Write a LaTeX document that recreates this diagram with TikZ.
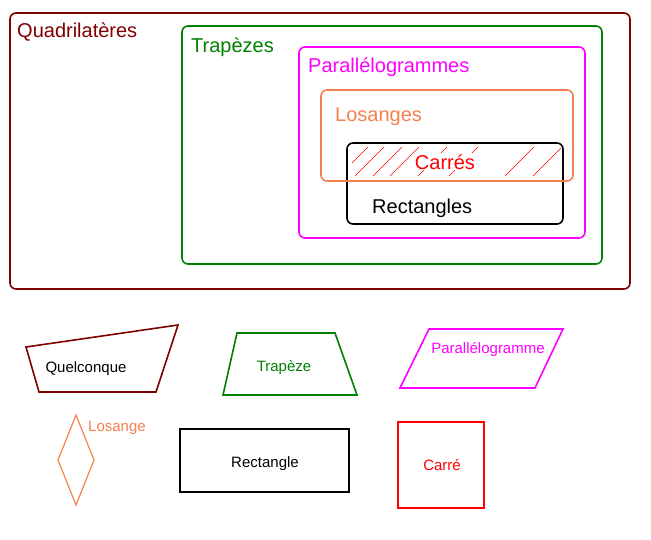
\documentclass[tikz,border=0pt]{standalone}
\usepackage{fontspec}
\setmainfont{Liberation Sans}
\definecolor{QuadRed}{HTML}{800000}
\definecolor{TrapGreen}{HTML}{008000}
\definecolor{ParaPink}{HTML}{FF00FF}
\definecolor{LosOrange}{HTML}{F47F4F}
\definecolor{CarreRed}{HTML}{FF0000}
\tikzset{
  setbox/.style={line width=1.6pt, rounded corners=6pt},
  setlabel/.style={anchor=base west, inner sep=0pt, font=\fontsize{20}{24}\selectfont},
  shapeline/.style={line width=1.6pt, line join=miter},
  shapelabel/.style={anchor=base, inner sep=0pt, font=\fontsize{15}{18}\selectfont}
}

\begin{document}
\begin{tikzpicture}[x=1pt, y=-1pt]
\useasboundingbox (0,0) rectangle (651,539);
% nested sets
\draw[setbox, QuadRed] (10,13) rectangle (630,289);
\draw[setbox, TrapGreen] (182,26) rectangle (602,264);
\draw[setbox, ParaPink] (299,47) rectangle (585,238);
\draw[setbox, black] (347,143) rectangle (563,224);
\draw[setbox, LosOrange] (321,90) rectangle (573,181);
% hatching of the common part
\begin{scope}
\clip (352,147) rectangle (561,176);
\foreach \hx in {339,355,373,390,418,449,505,533}
  \draw[CarreRed, line width=0.6pt] (\hx,176) -- ++(29,-29);
\end{scope}
% set names
\node[setlabel, QuadRed] (quad) at (17,37) {Quadrilatères};
\node[setlabel, TrapGreen] (trap) at (191,52) {Trapèzes};
\node[setlabel, ParaPink] (para) at (308,72) {Parallélogrammes};
\node[setlabel, LosOrange] (los) at (335,121) {Losanges};
\node[setlabel, anchor=base, fill=white, inner sep=1pt, text=CarreRed] (carres) at (445,169) {Carrés};
\node[setlabel] (rects) at (372,213) {Rectangles};
% Row 1 of examples
\draw[shapeline, QuadRed] (26,347) -- (178,325) -- (156,392) -- (39,392) -- cycle;
\node[shapelabel] (quelc) at (86,372) {Quelconque};
\draw[shapeline, TrapGreen] (237,333) -- (335,333) -- (357,395) -- (223,395) -- cycle;
\node[shapelabel, TrapGreen] (trapex) at (284,371) {Trapèze};
\draw[shapeline, ParaPink] (429,329) -- (563,329) -- (535,388) -- (400,388) -- cycle;
\node[shapelabel, ParaPink] (paraex) at (488,353) {Parallélogramme};
% Row 2 of examples
\draw[shapeline, line width=1.2pt, LosOrange] (76,415) -- (94,460) -- (76,505) -- (58,460) -- cycle;
\node[shapelabel, anchor=base west, LosOrange] (losex) at (88,431) {Losange};
\draw[shapeline] (180,429) rectangle (349,492);
\node[shapelabel] (rectex) at (265,467) {Rectangle};
\draw[shapeline, CarreRed] (398,422) rectangle (484,508);
\node[shapelabel, CarreRed] (carreex) at (442,470) {Carré};
\end{tikzpicture}
\end{document}
